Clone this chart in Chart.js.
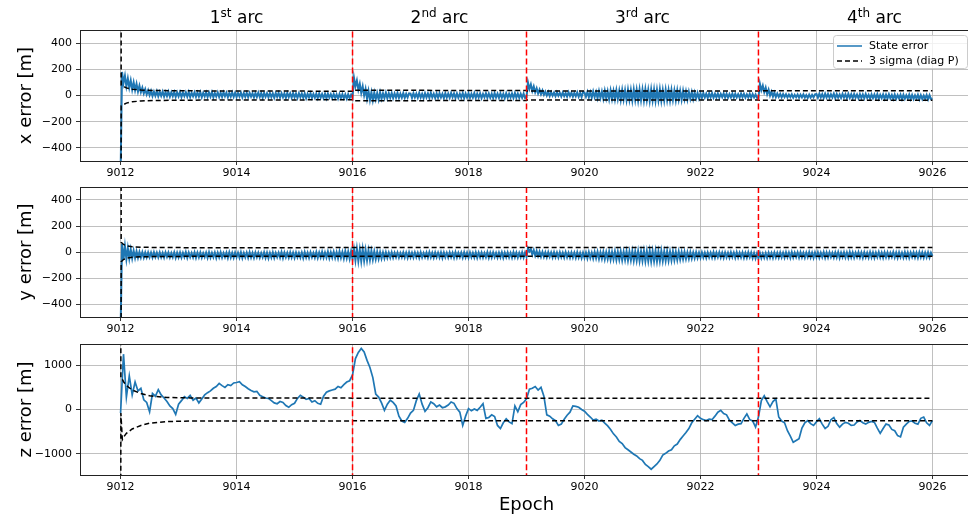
<!DOCTYPE html>
<html>
<head>
<meta charset="utf-8">
<script src="https://cdn.jsdelivr.net/npm/chart.js@4.4.1/dist/chart.umd.min.js"></script>
<style>
html, body { margin: 0; padding: 0; background: #fff; }
#wrap { position: relative; width: 968px; height: 518px; overflow: hidden; }
canvas { position: absolute; left: 0; }
</style>
</head>
<body>
<div id="wrap">
  <canvas id="cx" width="976" height="182" style="top:0px"></canvas>
  <canvas id="cy" width="976" height="156" style="top:182px"></canvas>
  <canvas id="cz" width="976" height="180" style="top:338px"></canvas>
</div>
<script>
// 축 / 라벨
const xTicks = [9012, 9014, 9016, 9018, 9020, 9022, 9024, 9026]
const xyTicks = [-400, -200, 0, 200, 400]
const zTicks = [-1000, 0, 1000]
const arcBounds = [9016, 9019, 9023]
const arcCenters = [9014, 9017.5, 9021, 9025]
const arcNums = ["1", "2", "3", "4"]
const arcSups = ["st", "nd", "rd", "th"]

// 시간축: x, y 는 0.025 간격, z 는 0.05 간격
const epochsFine = []
for (let i = 0; i <= 560; i++) epochsFine.push(9012 + i * 0.025)
const epochs = []
for (let i = 0; i <= 280; i++) epochs.push(9012 + i * 0.05)

// state error (한 줄 = 1 epoch)
const xErr = [
  -600, 180, 95, 150, 70, 130, 60, 115, 45, 100, 40, 90, 30, 75, 25, 60, 15, 48, 8, 40, 2, 35, -4, 30, -2, 33, -6, 28, -3, 30, -8, 26, -5, 29, -9, 25, -6, 27, -10, 24,
  -7, 26, -11, 22, -5, 25, -9, 27, -12, 21, -6, 24, -10, 23, -8, 26, -13, 20, -7, 24, -11, 22, -9, 25, -14, 19, -8, 23, -12, 21, -10, 24, -6, 22, -13, 20, -9, 23, -11, 21,
  -12, 19, -8, 22, -14, 18, -10, 21, -13, 20, -9, 17, -15, 19, -11, 22, -12, 18, -16, 20, -10, 17, -14, 19, -12, 16, -17, 18, -11, 20, -15, 17, -13, 15, -18, 19, -12, 16, -16, 18,
  -14, 15, -19, 17, -13, 14, -17, 16, -20, 13, -15, 17, -18, 12, -16, 14, -21, 15, -17, 11, -19, 13, -22, 14, -16, 10, -20, 12, -18, 9, -23, 11, -19, 10, -21, 8, -24, 9, -20, 6,
  -18, 135, 70, 115, 45, 90, 20, 70, 0, 50, -25, 35, -35, 25, -38, 22, -30, 18, -32, 24, -25, 16, -20, 21, -22, 17, -18, 19, -20, 15, -17, 20, -19, 14, -16, 18, -18, 13, -15, 17,
  15, -19, 18, -14, 14, -18, 19, -16, 12, -20, 17, -15, 15, -18, 20, -14, 13, -19, 16, -17, 18, -15, 12, -20, 17, -16, 14, -18, 19, -13, 15, -19, 16, -17, 13, -15, 18, -20, 14, -16,
  17, -18, 13, -15, 18, -19, 14, -16, 16, -20, 12, -14, 17, -18, 15, -17, 13, -19, 18, -15, 14, -18, 16, -16, 12, -20, 17, -17, 13, -15, 15, -19, 18, -16, 14, -18, 12, -17, 15, -19,
  -15, 100, 50, 85, 35, 70, 25, 55, 15, 45, 10, 38, 5, 30, 0, 28, -4, 25, -2, 22, -6, 24, -3, 20, -7, 23, -5, 19, -8, 25, -4, 21, -9, 20, -6, 24, -10, 19, -12, 26,
  22, -9, 28, -14, 25, -16, 31, -12, 27, -20, 33, -18, 30, -24, 36, -22, 32, -28, 38, -26, 35, -30, 40, -27, 37, -33, 42, -31, 39, -35, 44, -32, 41, -37, 45, -34, 43, -38, 46, -36,
  44, -39, 47, -35, 42, -40, 46, -37, 45, -41, 43, -36, 47, -39, 41, -38, 44, -35, 40, -37, 42, -33, 38, -36, 39, -31, 35, -33, 36, -28, 31, -30, 28, -25, 26, -27, 22, -21, 20, -22,
  17, -18, 19, -15, 14, -19, 16, -14, 18, -17, 13, -15, 15, -18, 12, -13, 16, -16, 14, -17, 11, -14, 15, -16, 13, -15, 10, -17, 14, -13, 12, -16, 9, -15, 13, -17, 11, -14, 8, -18,
  -20, 90, 40, 75, 25, 60, 10, 45, 0, 30, -8, 22, -12, 15, -10, 12, -14, 11, -11, 10, -15, 7, -12, 9, -16, 5, -13, 8, -17, 6, -14, 9, -15, 4, -18, 7, -16, 5, -14, 8,
  11, -17, 14, -15, 10, -19, 13, -16, 12, -18, 9, -15, 14, -20, 11, -17, 8, -19, 12, -16, 10, -21, 13, -18, 9, -20, 11, -17, 7, -22, 10, -19, 8, -21, 12, -18, 6, -23, 9, -20,
  7, -22, 10, -24, 5, -20, 8, -25, 6, -23, 9, -21, 4, -26, 7, -24, 3, -22, 6, -27, 5, -25, 2, -23, 7, -28, 4, -26, 1, -24, 5, -29, 3, -27, 0, -25, 4, -30, 2, -28,
  -22
]
const yErr = [
  -600, 65, -60, 45, -55, 30, -50, 20, -48, 10, -45, 5, -44, 0, -42, -2, -43, -4, -41, -3, -40, -5, -42, -2, -39, -6, -41, -3, -40, -7, -43, -4, -38, -5, -42, -8, -40, -3, -44, -6,
  -41, -4, -43, -7, -39, -2, -44, -5, -40, -8, -42, -3, -45, -6, -41, -4, -43, -9, -39, -5, -44, -2, -42, -7, -40, -4, -46, -6, -41, -3, -43, -8, -40, -5, -45, -2, -42, -7, -44, -4,
  -40, -6, -43, -3, -46, -8, -41, -5, -44, -2, -42, -7, -45, -4, -40, -6, -43, -9, -41, -3, -44, -5, -47, -7, -42, -4, -45, -8, -40, -6, -43, -2, -46, -5, -41, -7, -44, -3, -42, -6,
  -45, -4, -41, -8, -43, -5, -46, -2, -42, -6, -44, -3, -40, -7, -43, -1, -45, -5, -41, 0, -44, -4, -42, 2, -46, -3, -43, 1, -45, -2, -48, 4, -44, 0, -50, 6, -47, 2, -52, 5,
  -55, 20, -65, 25, -68, 18, -70, 22, -66, 15, -64, 12, -60, 8, -58, 4, -55, 0, -52, -2, -50, -4, -47, -3, -45, -6, -43, -4, -44, -7, -41, -5, -43, -8, -40, -4, -42, -6, -44, -3,
  -41, -7, -43, -4, -40, -6, -44, -3, -42, -8, -39, -5, -43, -2, -41, -7, -44, -4, -40, -6, -42, -3, -45, -5, -41, -8, -43, -4, -40, -6, -44, -2, -42, -7, -39, -5, -43, -3, -41, -6,
  -44, -4, -40, -7, -42, -3, -45, -6, -41, -5, -43, -8, -40, -2, -44, -6, -42, -4, -39, -7, -43, -5, -41, -3, -45, -6, -40, -4, -42, -8, -44, -2, -41, -5, -43, -7, -40, -3, -42, -5,
  -38, 30, 5, 22, -20, 15, -28, 8, -32, 2, -36, 0, -38, -3, -40, -1, -37, -4, -41, -2, -39, -5, -42, -3, -40, -6, -43, -2, -41, -7, -44, -4, -42, -6, -45, -3, -43, -8, -46, -5,
  -44, -4, -48, -2, -46, -6, -50, -1, -48, 0, -53, -3, -51, 1, -55, -2, -53, 2, -58, -1, -56, 3, -60, 0, -58, 4, -62, 1, -60, 5, -64, 2, -62, 6, -66, 3, -65, 7, -68, 4,
  -67, 8, -70, 5, -69, 9, -72, 6, -70, 7, -71, 4, -69, 8, -68, 3, -66, 5, -65, 2, -63, 4, -61, 0, -60, 2, -57, -2, -55, 0, -53, -3, -51, -1, -49, -4, -47, -2, -45, -5,
  -44, -3, -42, -6, -45, -4, -41, -7, -43, -2, -44, -5, -40, -3, -42, -6, -45, -4, -41, -7, -43, -3, -40, -5, -44, -2, -42, -6, -41, -4, -45, -7, -43, -3, -40, -5, -46, -8, -48, -10,
  -50, -8, -47, -12, -44, -9, -46, -6, -43, -8, -45, -5, -42, -7, -44, -4, -41, -6, -43, -3, -40, -5, -44, -2, -42, -6, -39, -4, -43, -3, -41, -7, -44, -5, -40, -2, -42, -6, -45, -4,
  -41, -3, -43, -6, -40, -2, -44, -5, -42, -3, -39, -7, -43, -4, -41, -2, -45, -6, -40, -3, -42, -5, -44, -1, -41, -4, -43, -6, -39, -2, -42, -5, -44, -3, -40, -6, -43, -2, -41, -4,
  -44, -5, -40, -2, -42, -6, -45, -3, -41, -4, -43, -7, -39, -1, -42, -5, -44, -3, -40, -6, -43, -2, -41, -4, -45, -5, -39, -3, -42, -6, -44, -2, -40, -4, -43, -5, -41, -3, -42, -6,
  -30
]
const zErr = [
  -80, 1250, 280, 760, 330, 620, 420, 480, 220, 160, -50, 360, 300, 450, 330, 260, 180, 80, 20, -110,
  120, 200, 290, 250, 320, 210, 260, 150, 240, 330, 380, 420, 480, 520, 590, 540, 500, 560, 540, 600,
  610, 630, 560, 520, 470, 430, 400, 410, 320, 290, 260, 250, 200, 150, 130, 180, 160, 90, 50, 110,
  140, 250, 320, 280, 230, 250, 170, 200, 140, 120, 300, 390, 420, 440, 460, 520, 490, 560, 620, 650,
  780, 1150, 1290, 1380, 1300, 1110, 950, 720, 350, 280, 150, -20, 120, 210, 160, 80, -150, -260, -290, -200,
  -80, -20, 200, 350, 120, -40, 40, 170, 130, 60, 100, 40, 60, 100, 170, 140, 20, -60, -360, -150,
  20, -30, 10, -20, 50, 130, -200, -180, -120, -160, -360, -430, -300, -210, -280, -320, 80, -50, 110, 160,
  240, 460, 480, 520, 440, 500, 300, -120, -150, -210, -250, -360, -330, -220, -130, -60, 80, 70, 50, 0,
  -40, -110, -170, -240, -220, -260, -240, -310, -370, -450, -550, -620, -720, -770, -860, -910, -960, -1010, -1050, -1110,
  -1150, -1240, -1290, -1350, -1290, -1230, -1150, -1030, -990, -940, -910, -820, -780, -680, -600, -520, -430, -300, -220, -140,
  -200, -230, -250, -220, -230, -150, -60, -20, -90, -120, -240, -300, -360, -330, -320, -200, -100, -230, -260, -400,
  -170, 200, 310, 180, 60, 180, 240, -170, -260, -300, -480, -600, -740, -700, -660, -420, -300, -250, -320, -360,
  -280, -210, -330, -430, -380, -230, -180, -320, -400, -330, -290, -310, -360, -350, -280, -250, -300, -330, -290, -270,
  -290, -420, -540, -430, -330, -350, -450, -480, -590, -620, -400, -330, -270, -260, -310, -330, -200, -170, -300, -360,
  -250
]

// 3 sigma (diag P)
const sigEpochsX = [9012, 9012.01, 9012.05, 9012.1, 9012.2, 9012.35, 9012.6, 9013, 9014, 9016, 9016.01, 9019, 9019.01, 9023, 9023.01, 9026]
const sigUpX = [5000, 80, 70, 58, 48, 42, 38, 36, 34, 33, 40, 38, 34, 34, 37, 36]
const sigLoX = [-5000, -80, -70, -58, -48, -42, -38, -36, -34, -33, -40, -38, -34, -34, -37, -36]
const sigEpochsY = [9012, 9012.01, 9012.05, 9012.1, 9012.2, 9012.4, 9012.8, 9013.5, 9016, 9019, 9023, 9026]
const sigUpY = [5000, 75, 58, 48, 40, 36, 34, 33, 34, 34, 34, 34]
const sigLoY = [-5000, -75, -58, -48, -40, -36, -34, -33, -33, -32, -32, -32]
const sigEpochsZ = [9012, 9012.005, 9012.03, 9012.06, 9012.1, 9012.2, 9012.35, 9012.5, 9012.8, 9013.2, 9014, 9016, 9019, 9023, 9026]
const sigUpZ = [5000, 700, 680, 610, 540, 440, 360, 310, 272, 262, 258, 257, 256, 255, 255]
const sigLoZ = [-5000, -80, -680, -610, -540, -440, -360, -310, -272, -262, -258, -257, -256, -255, -255]

const FONT = "DejaVu Sans"

function pts(xs, ys){
    return xs.map((x, i) => ({x: x, y: ys[i]}))
}

// 플롯 테두리 (위쪽/오른쪽 포함)
const framePlugin = {
    id: 'frame',
    afterDraw(c){
        const a = c.chartArea, ctx = c.ctx
        ctx.save()
        ctx.strokeStyle = '#222'
        ctx.lineWidth = 1
        ctx.strokeRect(Math.round(a.left) + 0.5, Math.round(a.top) + 0.5, a.right - a.left, a.bottom - a.top)
        ctx.restore()
    }
}

// 아크 제목
const arcPlugin = {
    id: 'arcs',
    afterDraw(c){
        const ctx = c.ctx, xs = c.scales.x
        const big = '17px "' + FONT + '"', small = '12px "' + FONT + '"'
        ctx.save()
        ctx.fillStyle = '#000'
        ctx.textBaseline = 'alphabetic'
        ctx.textAlign = 'left'
        arcCenters.forEach((v, i) => {
            ctx.font = big
            const w1 = ctx.measureText(arcNums[i]).width
            const w3 = ctx.measureText(' arc').width
            ctx.font = small
            const w2 = ctx.measureText(arcSups[i]).width
            let x = xs.getPixelForValue(v) - (w1 + w2 + w3) / 2
            ctx.font = big
            ctx.fillText(arcNums[i], x, 23)
            ctx.font = small
            ctx.fillText(arcSups[i], x + w1, 17)
            ctx.font = big
            ctx.fillText(' arc', x + w1 + w2, 23)
        })
        ctx.restore()
    }
}

// 범례
const legendPlugin = {
    id: 'lg',
    afterDraw(c){
        const ctx = c.ctx, a = c.chartArea
        const x0 = a.right - 140, y0 = a.top + 5, w = 134, h = 33
        ctx.save()
        ctx.fillStyle = 'rgba(255,255,255,0.8)'
        ctx.strokeStyle = '#cccccc'
        ctx.lineWidth = 1
        ctx.beginPath()
        ctx.roundRect(x0 + 0.5, y0 + 0.5, w, h, 3)
        ctx.fill()
        ctx.stroke()
        ctx.lineWidth = 1.5
        ctx.strokeStyle = '#1f77b4'
        ctx.beginPath(); ctx.moveTo(x0 + 4, y0 + 11); ctx.lineTo(x0 + 29, y0 + 11); ctx.stroke()
        ctx.strokeStyle = '#000'
        ctx.setLineDash([5, 3])
        ctx.beginPath(); ctx.moveTo(x0 + 4, y0 + 26); ctx.lineTo(x0 + 29, y0 + 26); ctx.stroke()
        ctx.setLineDash([])
        ctx.fillStyle = '#000'
        ctx.font = '11px "' + FONT + '"'
        ctx.textBaseline = 'middle'
        ctx.fillText('State error', x0 + 36, y0 + 11)
        ctx.fillText('3 sigma (diag P)', x0 + 36, y0 + 26)
        ctx.restore()
    }
}

function makeChart(id, opt){
    const datasets = [
        { data: pts(opt.t, opt.err), borderColor: '#1f77b4', borderWidth: opt.lw, pointRadius: 0, order: 2 },
        { data: pts(opt.sigX, opt.sigUp), borderColor: '#000', borderWidth: 1.5, borderDash: [5, 3], pointRadius: 0, order: 1 },
        { data: pts(opt.sigX, opt.sigLo), borderColor: '#000', borderWidth: 1.5, borderDash: [5, 3], pointRadius: 0, order: 1 }
    ]
    arcBounds.forEach(b => {
        datasets.push({ data: [{x: b, y: -1e5}, {x: b, y: 1e5}], borderColor: '#ff0000', borderWidth: 1.5, borderDash: [6, 3], pointRadius: 0, order: 0 })
    })

    return new Chart(document.getElementById(id), {
        type: 'line',
        data: { datasets },
        options: {
            responsive: false,
            animation: false,
            events: [],
            layout: { padding: { top: opt.padTop, left: 0, right: 3, bottom: 0 } },
            plugins: { legend: { display: false }, tooltip: { enabled: false } },
            scales: {
                x: {
                    type: 'linear', min: 9011.3, max: 9026.7,
                    afterBuildTicks: s => { s.ticks = xTicks.map(v => ({value: v})) },
                    afterFit: s => { s.height = opt.xH; s.paddingLeft = 0; s.paddingRight = 0 },
                    ticks: { color: '#000', font: { family: FONT, size: 11 }, padding: 2, maxRotation: 0, callback: v => String(v) },
                    grid: { color: '#b0b0b0', lineWidth: 0.8, tickColor: '#000', tickLength: 4 },
                    border: { display: true, color: '#222', width: 1 },
                    title: { display: !!opt.xTitle, text: opt.xTitle || '', color: '#000', font: { family: FONT, size: 18 }, padding: { top: 0, bottom: 2 } }
                },
                y: {
                    min: opt.min, max: opt.max,
                    afterBuildTicks: s => { s.ticks = opt.ticks.map(v => ({value: v})) },
                    afterFit: s => { s.width = 80; s.paddingTop = 0; s.paddingBottom = 0 },
                    ticks: { color: '#000', font: { family: FONT, size: 11 }, padding: 4, callback: v => v < 0 ? '\u2212' + Math.abs(v) : String(v) },
                    grid: { color: '#b0b0b0', lineWidth: 0.8, tickColor: '#000', tickLength: 4 },
                    border: { display: true, color: '#222', width: 1 },
                    title: { display: true, text: opt.yTitle, color: '#000', font: { family: FONT, size: 18 }, padding: { top: 16, bottom: 0 } }
                }
            }
        },
        plugins: opt.plugins || []
    })
}

makeChart('cx', { t: epochsFine, err: xErr, lw: 2, sigX: sigEpochsX, sigUp: sigUpX, sigLo: sigLoX, min: -500, max: 500, ticks: xyTicks,
    yTitle: 'x error [m]', padTop: 30, xH: 21, plugins: [framePlugin, arcPlugin, legendPlugin] })
makeChart('cy', { t: epochsFine, err: yErr, lw: 2, sigX: sigEpochsY, sigUp: sigUpY, sigLo: sigLoY, min: -500, max: 500, ticks: xyTicks,
    yTitle: 'y error [m]', padTop: 5, xH: 21, plugins: [framePlugin] })
makeChart('cz', { t: epochs, err: zErr, lw: 1.7, sigX: sigEpochsZ, sigUp: sigUpZ, sigLo: sigLoZ, min: -1480, max: 1480, ticks: zTicks,
    yTitle: 'z error [m]', padTop: 6, xH: 43, xTitle: 'Epoch', plugins: [framePlugin] })
</script>
</body>
</html>
